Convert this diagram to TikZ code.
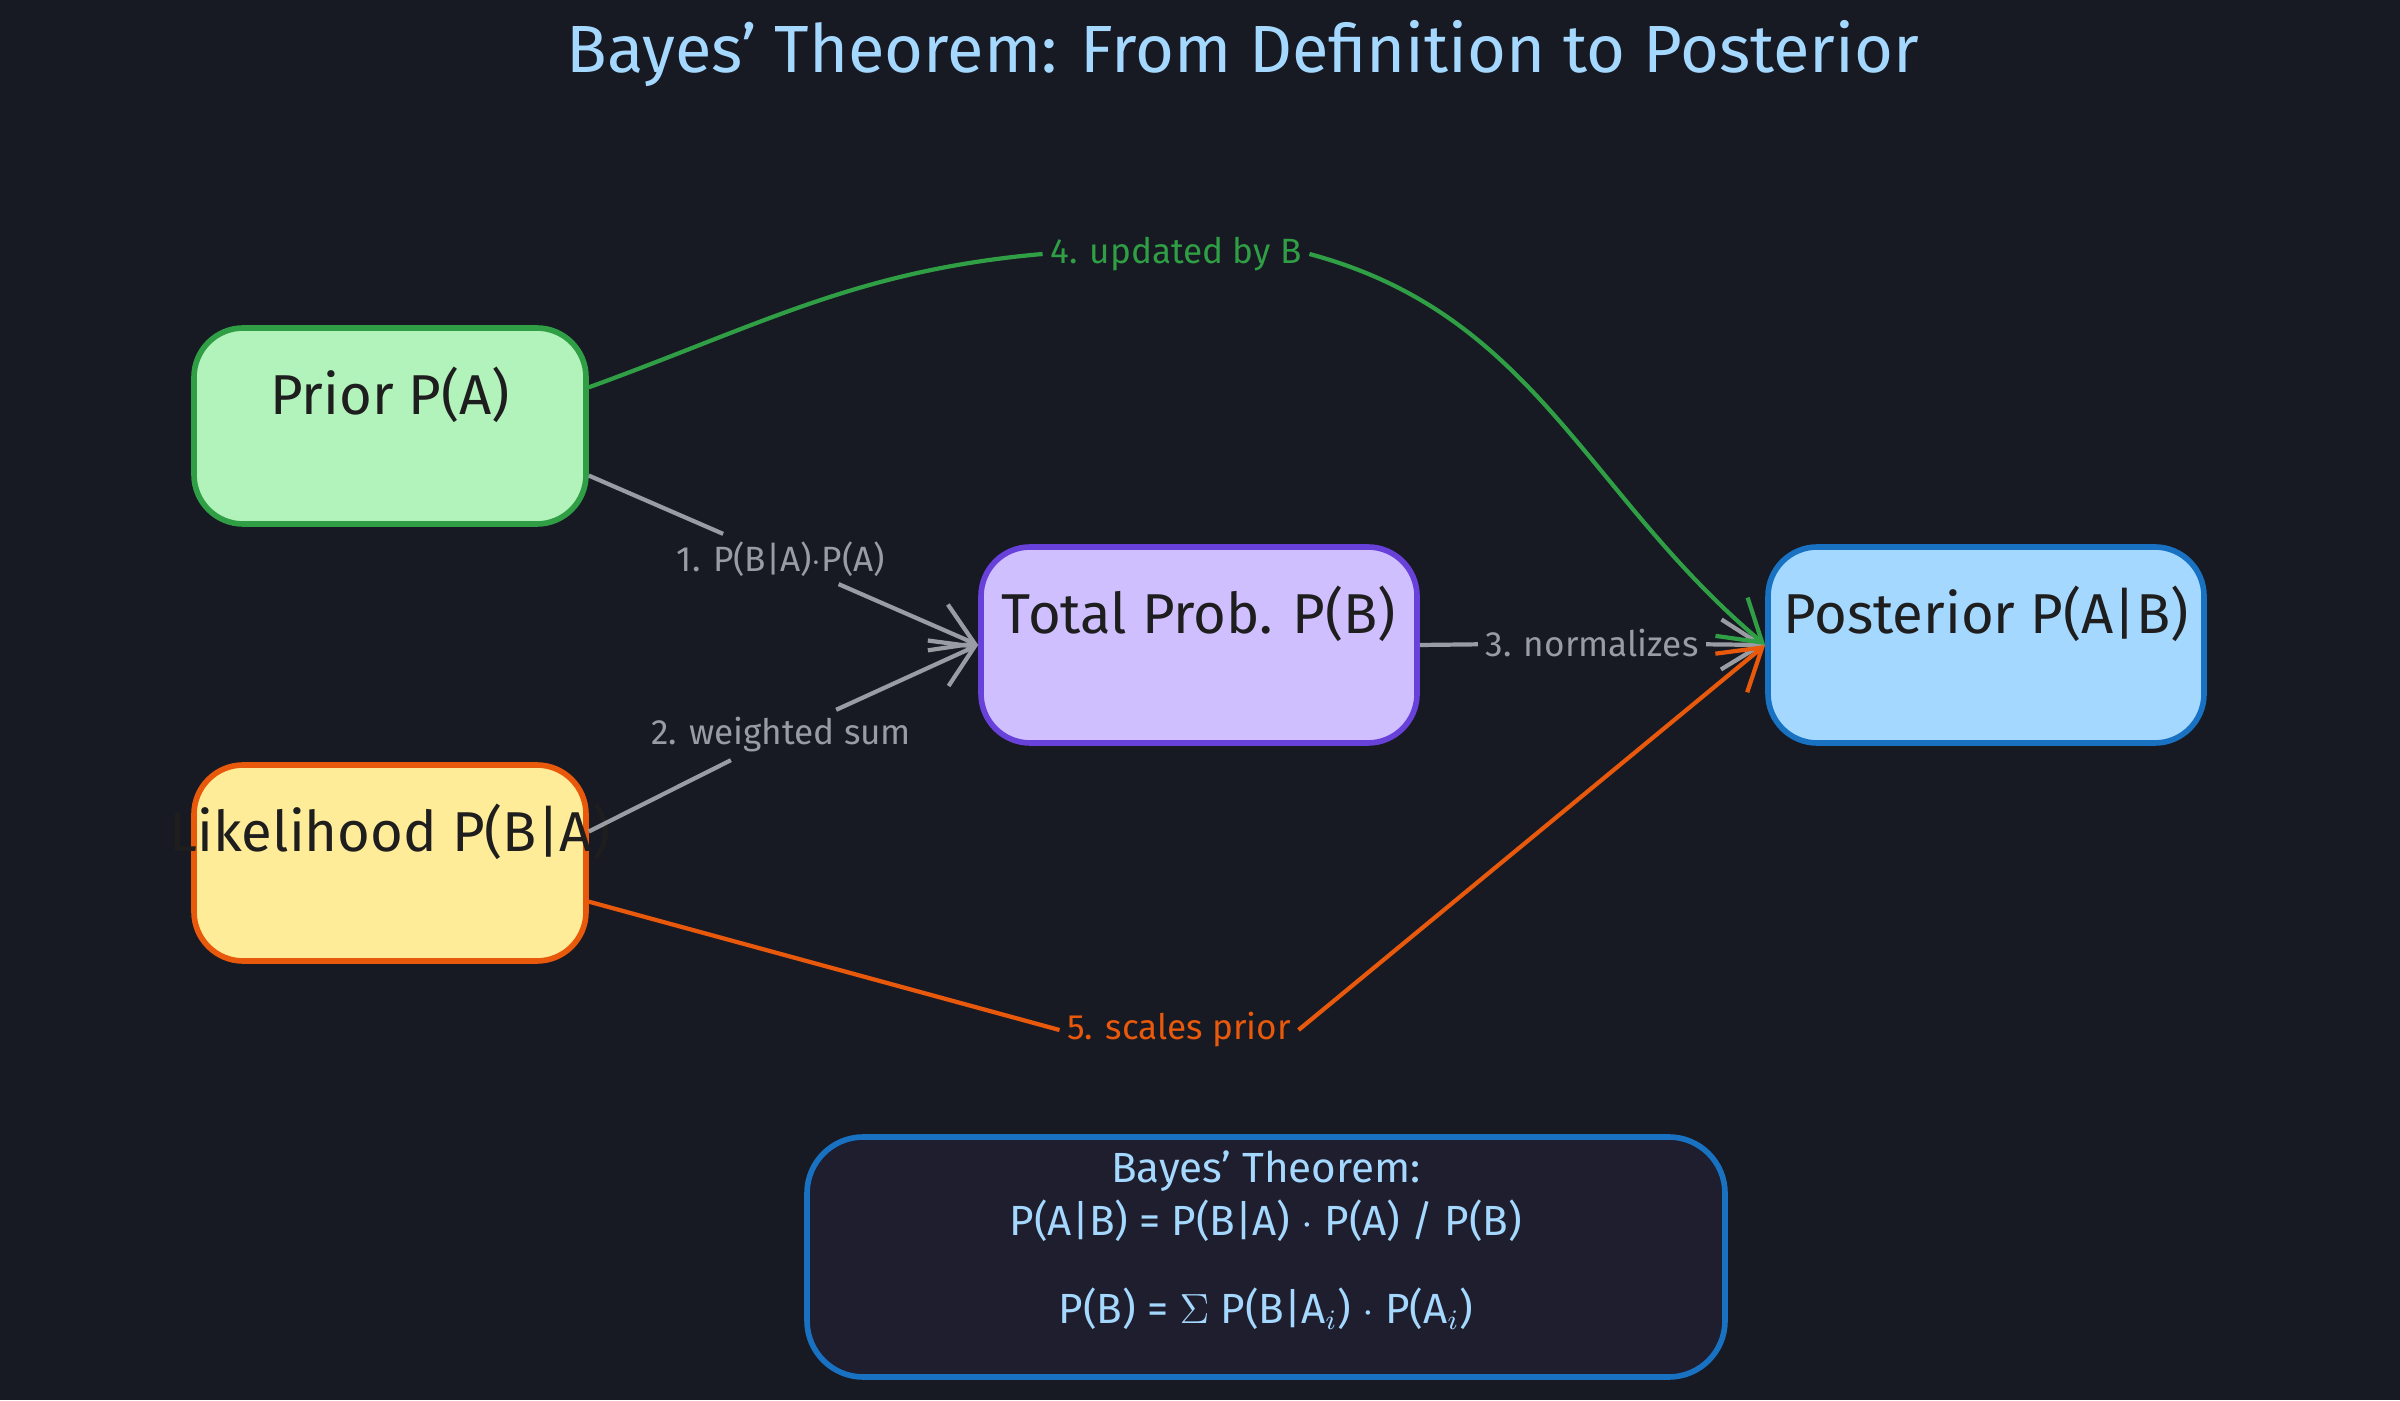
\documentclass[tikz,border=0pt]{standalone}
\usepackage{fontspec}
\setmainfont{Fira Sans}
\usetikzlibrary{arrows.meta}
\definecolor{bg}{HTML}{171923}
\definecolor{lblue}{HTML}{A5D8FF}
\definecolor{gfill}{HTML}{B2F2BB}\definecolor{gline}{HTML}{2F9E44}
\definecolor{yfill}{HTML}{FFEC99}\definecolor{oline}{HTML}{E8590C}
\definecolor{pfill}{HTML}{D0BFFF}\definecolor{pline}{HTML}{6741D9}
\definecolor{bline}{HTML}{1971C2}
\definecolor{fbox}{HTML}{1E1E2E}
\definecolor{gr}{HTML}{9A9CA3}
\definecolor{dk}{HTML}{1E1E1E}
\begin{document}
\begin{tikzpicture}[
  box/.style={draw, line width=1.6pt, rounded corners=14pt, minimum width=3.92cm, minimum height=1.96cm},
  bt/.style={text=dk, font=\fontsize{16}{19}\selectfont},
  el/.style={font=\fontsize{10}{12}\selectfont, fill=bg, inner sep=2pt},
  ar/.style={line width=1.2pt, -{Straight Barb[length=4mm,width=5mm]}},
]
\fill[bg] (0,0) rectangle (24,14);
\useasboundingbox (0,0) rectangle (24,14);
\node[text=lblue, font=\fontsize{19}{22}\selectfont] (title) at (12.43,13.46) {Bayes' Theorem: From Definition to Posterior};

\node[box, draw=gline, fill=gfill] (prior) at (3.90,9.74) {};
\node[bt] (tprior) at (3.90,10.05) {Prior P(A)};
\node[box, draw=oline, fill=yfill] (lik) at (3.90,5.37) {};
\node[bt] (tlik) at (3.90,5.68) {Likelihood P(B|A)};
\node[box, draw=pline, fill=pfill, minimum width=4.36cm] (tot) at (11.99,7.55) {};
\node[bt] (ttot) at (11.99,7.86) {Total Prob. P(B)};
\node[box, draw=bline, fill=lblue, minimum width=4.36cm] (post) at (19.86,7.55) {};
\node[bt] (tpost) at (19.86,7.86) {Posterior P(A|B)};

\node[draw=bline, fill=fbox, line width=1.6pt, rounded corners=16pt, minimum width=9.18cm, minimum height=2.40cm] (fb) at (12.66,1.43) {};
\node[text=lblue, align=center, font=\fontsize{12}{15}\selectfont] (ftxt) at (12.66,1.60) {Bayes' Theorem:\\P(A|B) = P(B|A) $\cdot$ P(A) / P(B)\\[10pt]P(B) = $\Sigma$ P(B|A$_i$) $\cdot$ P(A$_i$)};

% grey edges
\node[el, text=gr] (l1) at (7.81,8.41) {1. P(B|A)$\cdot$P(A)};
\draw[gr, line width=1.2pt] (prior.-14) -- (l1);
\draw[gr, ar] (l1) -- (tot.west);
\node[el, text=gr] (l2) at (7.81,6.65) {2. weighted sum};
\draw[gr, line width=1.2pt] (lik.9) -- (l2);
\draw[gr, ar] (l2) -- (tot.west);
\node[el, text=gr] (l3) at (15.92,7.57) {3. normalizes};
\draw[gr, line width=1.2pt] (tot.east) -- (l3);
\draw[gr, ar] (l3) -- (post.west);

% green
\node[el, text=gline] (l4) at (11.76,11.46) {4. updated by B};
\draw[gline, line width=1.2pt] (prior.11) to[out=20,in=185] (l4.west);
\draw[gline, ar] (l4.east) to[out=-15,in=140] (post.west);

% orange
\node[el, text=oline] (l5) at (11.79,3.70) {5. scales prior};
\draw[oline, line width=1.2pt] (lik.-11) -- (l5.west);
\draw[oline, ar] (l5.east) -- (post.west);
\end{tikzpicture}
\end{document}
